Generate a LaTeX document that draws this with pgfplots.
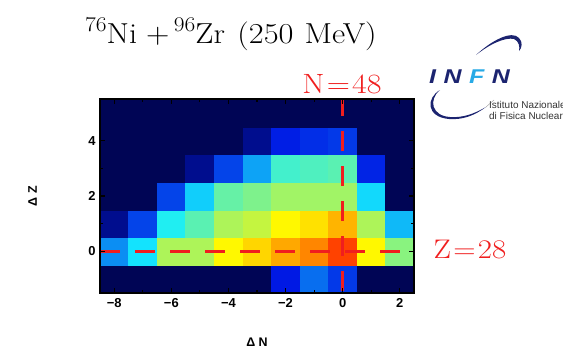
\documentclass[border=0pt]{standalone}
\usepackage{fontspec}
\setmainfont{Latin Modern Roman}
\setsansfont{Liberation Sans}
\usepackage{pgfplots}
\pgfplotsset{compat=1.18}
\usepackage{pgfplotstable}

\definecolor{infnblue}{RGB}{28,36,112}
\definecolor{infncyan}{RGB}{40,170,230}
\definecolor{linered}{RGB}{240,30,30}

% yield map: dN, dZ, intensity (jet scale 0..8)
\pgfplotstableread{
x y c
-8 -1 0
-7 -1 0
-6 -1 0
-5 -1 0
-4 -1 0
-3 -1 0
-2 -1 1.0
-1 -1 1.8
0 -1 1.3
1 -1 0
2 -1 0
-8 0 2.1
-7 0 2.9
-6 0 4.3
-5 0 4.3
-4 0 5.0
-3 0 5.3
-2 0 5.7
-1 0 6.0
0 0 6.6
1 0 5.0
2 0 4.0
-8 1 0.4
-7 1 1.4
-6 1 3.1
-5 1 3.6
-4 1 4.3
-3 1 4.5
-2 1 5.0
-1 1 5.2
0 1 5.6
1 1 4.3
2 1 2.5
-8 2 0
-7 2 0
-6 2 1.4
-5 2 2.7
-4 2 3.7
-3 2 3.9
-2 2 4.2
-1 2 4.2
0 2 4.2
1 2 2.8
2 2 0
-8 3 0
-7 3 0
-6 3 0
-5 3 0.4
-4 3 1.4
-3 3 2.3
-2 3 3.4
-1 3 3.5
0 3 3.6
1 3 1.1
2 3 0
-8 4 0
-7 4 0
-6 4 0
-5 4 0
-4 4 0
-3 4 0.4
-2 4 1.05
-1 4 1.2
0 4 1.3
1 4 0
2 4 0
-8 5 0
-7 5 0
-6 5 0
-5 5 0
-4 5 0
-3 5 0
-2 5 0
-1 5 0
0 5 0
1 5 0
2 5 0
}\yieldtable

\newcommand{\iso}[1]{\raisebox{12bp}{\fontsize{21}{24}\selectfont #1}}

\begin{document}
\begin{tikzpicture}[x=1bp,y=1bp]
\path[use as bounding box] (0,0) rectangle (563,350);

% title
\node[anchor=base west, inner sep=0pt] at (85,307) {\scalebox{1.12}[1]{\fontsize{29}{33}\selectfont
  \iso{76}Ni\hspace{8bp}+\hspace{4bp}\iso{96}Zr\hspace{11bp}(250\hspace{10bp}MeV)}};

\begin{axis}[
  at={(100bp,57bp)}, anchor=south west,
  scale only axis, width=314bp, height=194bp,
  xmin=-8.5, xmax=2.5, ymin=-1.5, ymax=5.5,
  axis on top,
  colormap={ionjet}{rgb255(0pt)=(0,5,85) rgb255(1pt)=(0,25,228) rgb255(3pt)=(20,238,255) rgb255(5pt)=(255,248,0) rgb255(7pt)=(255,20,0) rgb255(8pt)=(140,0,0)},
  point meta min=0, point meta max=8,
  xtick={-8,-6,...,2}, ytick={0,2,4},
  xticklabels={−8,−6,−4,−2,0,2},
  yticklabels={0,2,4},
  minor x tick num=1, minor y tick num=1,
  tick style={black, line width=1.1pt},
  major tick length=5bp, minor tick length=3bp,
  axis line style={black, line width=1.6pt},
  tick label style={font=\fontsize{13}{15}\selectfont\sffamily\bfseries},
  xticklabel style={yshift=-2bp},
  yticklabel style={xshift=-1bp},
  xlabel={Δ N}, ylabel={Δ Z},
  label style={font=\fontsize{12.5}{14}\selectfont\sffamily\bfseries},
  xlabel style={at={(axis description cs:0.5,-0.253)}, anchor=center},
  ylabel style={at={(axis description cs:-0.215,0.5)}, anchor=center},
]
\addplot[matrix plot*, mesh/cols=11, point meta=explicit]
  table[x=x, y=y, meta=c] {\yieldtable};
% shell closures
\addplot[linered, line width=2.6pt, dash pattern=on 20bp off 15bp] coordinates {(-8.5,0) (2.5,0)};
\addplot[linered, line width=2.6pt, dash pattern=on 20bp off 15bp] coordinates {(0,5.6) (0,-1.5)};
\end{axis}

\node[anchor=base, text=linered, inner sep=0pt] at (342,257) {\scalebox{1.15}[1]{\fontsize{28}{32}\selectfont N\hspace{2bp}=\hspace{2bp}48}};
\node[anchor=base, text=linered, inner sep=0pt] at (470,92) {\scalebox{1.15}[1]{\fontsize{27}{32}\selectfont Z\hspace{2bp}=\hspace{2bp}28}};

% INFN logo
\fill[infnblue] (476,295) .. controls (492,310) and (512,320) .. (519,312)
  .. controls (523,308) and (522,302) .. (519,299)
  .. controls (520,303) and (519,309) .. (514,311)
  .. controls (505,313) and (490,306) .. (476,295) -- cycle;
\fill[infnblue] (440,260) .. controls (428,250) and (432,234) .. (450,233)
  .. controls (462,232) and (474,236) .. (486,243)
  .. controls (474,234) and (462,230) .. (449,231)
  .. controls (426,233) and (426,252) .. (440,260) -- cycle;
\draw[black!35, line width=0.5pt] (486,243) -- (494,250);
\node[anchor=base west, font=\fontsize{20}{24}\selectfont\sffamily\bfseries\itshape, text=infnblue, inner sep=0pt] at (429,267)
  {\scalebox{1.25}[1]{I\hspace{6bp}N\hspace{6bp}{\color{infncyan}F}\hspace{6bp}N}};
\node[anchor=base west, font=\fontsize{10}{12}\selectfont\sffamily, text=black!80, inner sep=0pt] at (489,242)
  {Istituto Nazionale};
\node[anchor=base west, font=\fontsize{10}{12}\selectfont\sffamily, text=black!80, inner sep=0pt] at (489,231)
  {di Fisica Nucleare};
\end{tikzpicture}
\end{document}
